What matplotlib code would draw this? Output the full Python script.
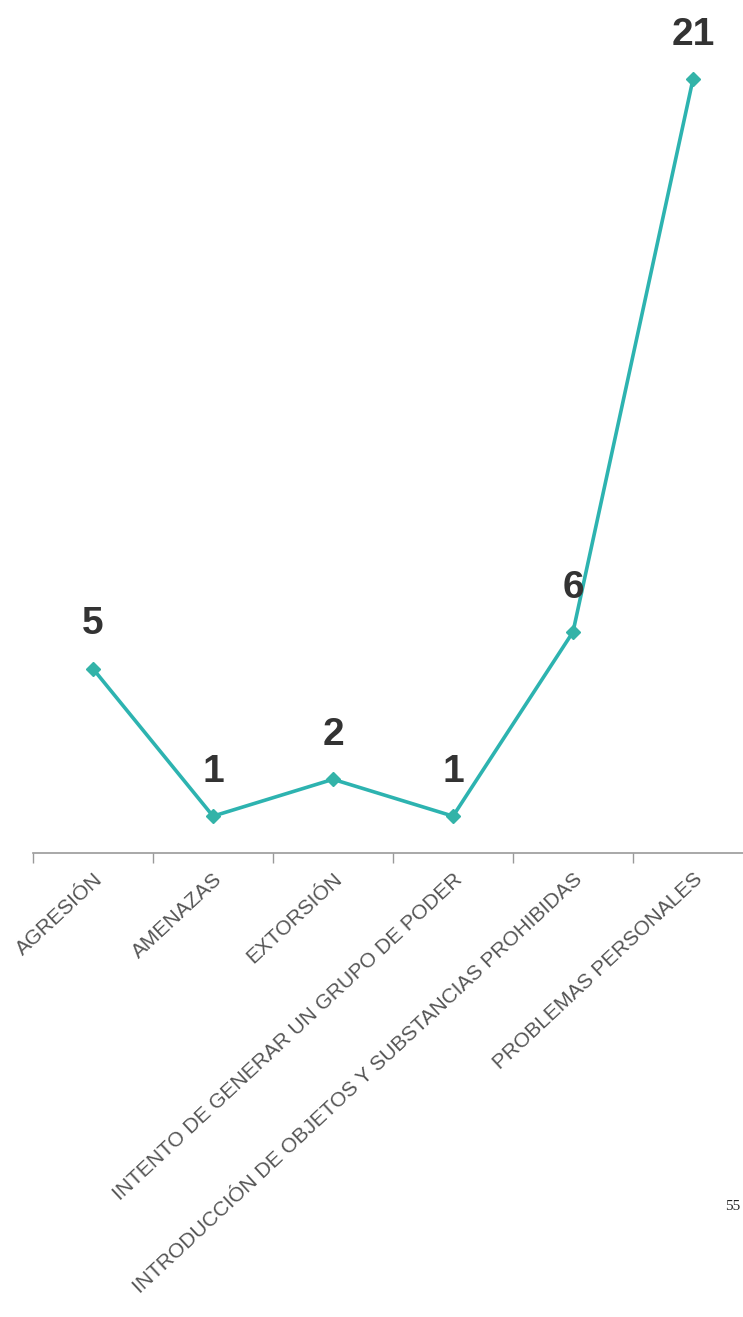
import matplotlib
matplotlib.use("Agg")
import matplotlib.pyplot as plt
import matplotlib.transforms as mtransforms
import numpy as np

categories = ["AGRESIÓN", "AMENAZAS", "EXTORSIÓN", "INTENTO DE GENERAR UN GRUPO DE PODER",
              "INTRODUCCIÓN DE OBJETOS Y SUBSTANCIAS PROHIBIDAS", "PROBLEMAS PERSONALES"]
values = [5, 1, 2, 1, 6, 21]
page_number = "55"

W, H = 743, 1317
fig = plt.figure(figsize=(W / 100, H / 100), dpi=100)
ax = fig.add_axes([33 / W, (H - 853) / H, 720 / W, 853 / H])

x = np.arange(len(categories))
ax.plot(x, values, color="#2db3b0", linewidth=2.6, marker="D", markersize=7.5,
        markerfacecolor="#33b3a8", markeredgecolor="#33b3a8", zorder=3)

for xi, v in zip(x, values):
    ax.annotate(str(v), (xi, v), xytext=(0, 19), textcoords="offset points",
                ha="center", va="bottom", fontsize=28, fontweight="bold",
                color="#333333", family=["Liberation Sans Narrow", "Liberation Sans"])

ax.set_xlim(-0.5, len(categories) - 0.5)
ax.set_ylim(0, 23.15)

for s in ["top", "right", "left"]:
    ax.spines[s].set_visible(False)
ax.spines["bottom"].set_color("#999999")
ax.spines["bottom"].set_linewidth(1.2)
ax.set_yticks([])

ax.set_xticks(x)
labels = ax.set_xticklabels(categories, rotation=43, ha="right", va="top",
                            rotation_mode="anchor", fontsize=15, color="#555555",
                            family="Liberation Sans")
offset = mtransforms.ScaledTranslation(8 / 100, 0, fig.dpi_scale_trans)
for lab in labels:
    lab.set_transform(lab.get_transform() + offset)
ax.tick_params(axis="x", which="major", length=0, pad=12)
ax.set_xticks(np.arange(-0.5, len(categories) + 0.5, 1), minor=True)
ax.tick_params(axis="x", which="minor", length=7, width=1, color="#999999")
ax.patch.set_alpha(0)

fig.text(725 / W, 1 - 1207 / H, page_number, ha="left", va="center",
         fontsize=11, family="Liberation Serif", color="#222222")

fig.savefig("out.png", dpi=100)
